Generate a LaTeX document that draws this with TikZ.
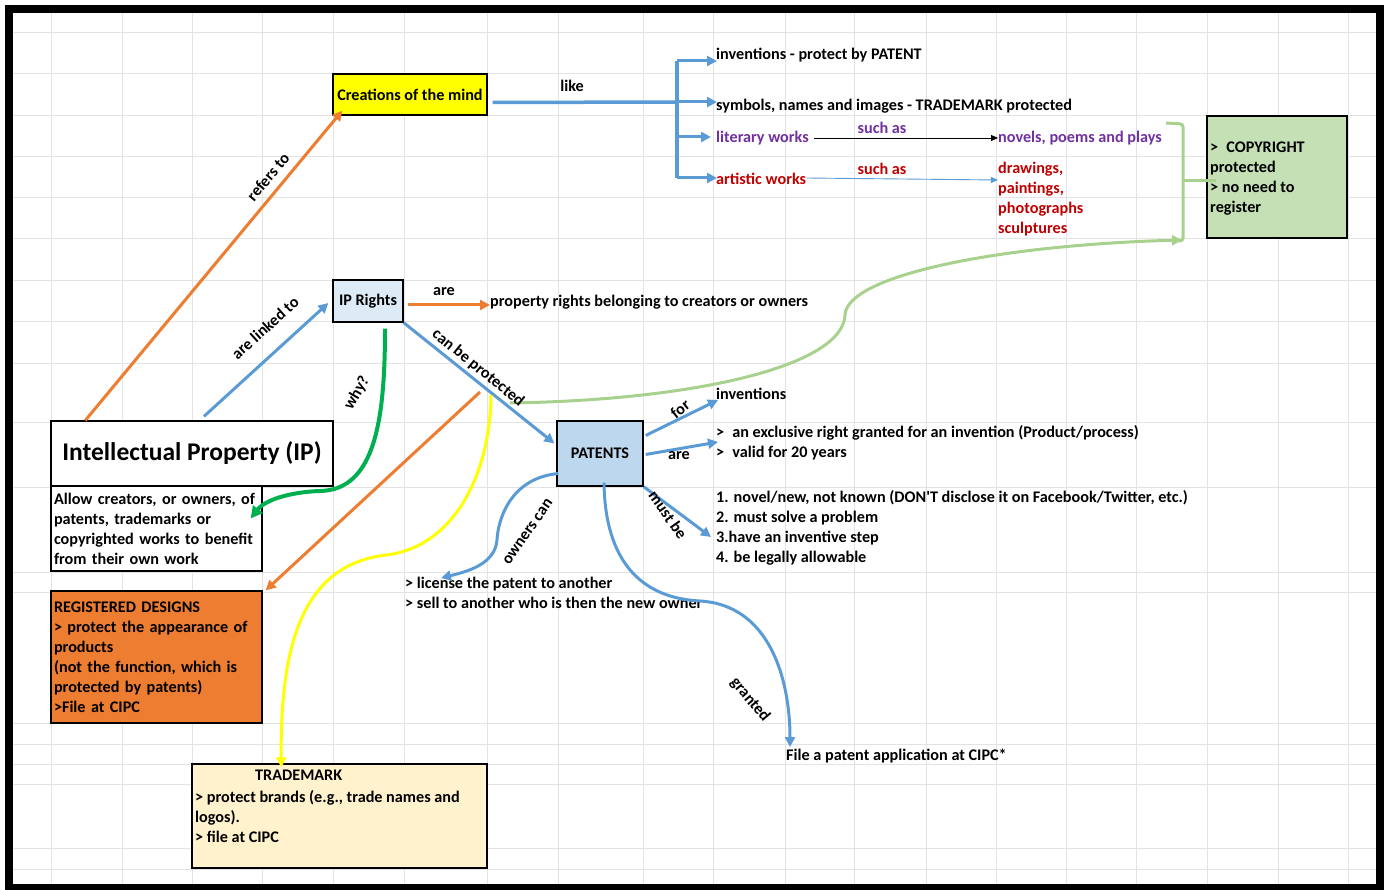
\documentclass[tikz,border=0pt]{standalone}
\usepackage{fontspec}
\setmainfont{Carlito}
\usetikzlibrary{arrows.meta,calc}
\definecolor{cblue}{HTML}{5B9BD5}
\definecolor{corange}{HTML}{ED7D31}
\definecolor{cgreen}{HTML}{00B050}
\definecolor{lgreen}{HTML}{A9D18E}
\definecolor{cyellow}{HTML}{FFFF00}
\definecolor{cpurple}{HTML}{7030A0}
\definecolor{cred}{HTML}{C00000}
\definecolor{fillipr}{HTML}{DDEBF7}
\definecolor{fillpat}{HTML}{BDD7EE}
\definecolor{fillcopy}{HTML}{C5E0B4}
\definecolor{filltm}{HTML}{FFF2CC}
\definecolor{gridc}{HTML}{E3E3E3}
\begin{document}
\begin{tikzpicture}[x=1pt,y=-1pt,
  every node/.style={font=\bfseries\fontsize{16.2}{20}\selectfont, inner sep=0pt},
  box/.style={draw=black, line width=1.3pt, inner sep=3pt},
  conn/.style={line width=3pt, -{Triangle[length=10pt,width=10pt]}},
  thinconn/.style={line width=0.9pt, -{Triangle[length=7pt,width=6pt]}},
  gridline/.style={draw=gridc, line width=1pt}]
\useasboundingbox (0,0) rectangle (1386,890);
% grid
\foreach \x in {51,122,192,262,333,404,487,558,643,713,785,854,926,996,1066,1136,1207,1278,1348}
  \draw[gridline] (\x,13) -- (\x,884);
\foreach \y in {33,74,116,157,198,239,281,322,363,422,487,572,592,723,744,764,784,848,869}
  \draw[gridline] (13,\y) -- (1376,\y);
% frame
\draw[line width=8pt] (9,9) rectangle (1380,888);

% boxes
\node[box, fill=cyellow, minimum width=154pt, minimum height=41pt] (cm) at (410,94.5) {Creations of the mind};
\node[box, fill=fillipr, minimum width=70pt, minimum height=42pt] (ipr) at (368,301) {IP Rights};
\node[box, fill=white, minimum width=282pt, minimum height=65pt, font=\bfseries\fontsize{25.5}{30}\selectfont] (ip) at (192,453.5) {Intellectual Property (IP)};
\node[box, fill=white, minimum width=211pt, minimum height=85pt, text width=205pt, align=left] (ipdesc) at (156.5,528.5) {Allow creators, or owners, of\\patents, trademarks or\\copyrighted works to benefit\\from their own work};
\node[box, fill=fillpat, minimum width=86pt, minimum height=65pt] (pat) at (600,453.5) {PATENTS};
\node[box, fill=fillcopy, minimum width=140pt, minimum height=122pt] (copy) at (1277,177) {};
\node[anchor=west, align=left] (copyt) at (1210,179) {>\enspace COPYRIGHT\\protected\\> no need to\\register};
\node[box, fill=corange, minimum width=211pt, minimum height=132pt, text width=205pt, align=left] (rd) at (156.5,657) {REGISTERED DESIGNS\\> protect the appearance of\\products\\(not the function, which is\\protected by patents)\\>File at CIPC};
\node[box, fill=filltm, minimum width=295pt, minimum height=104pt] (tm) at (339.5,816) {};
\node[anchor=north west, align=left] (tmt) at (195,770) {\hspace*{60pt}TRADEMARK\\[2pt]> protect brands (e.g., trade names and\\logos).\\> file at CIPC};

% texts
\node[anchor=west] (t1) at (716,55) {inventions - protect by PATENT};
\node[anchor=west] (t2) at (716,106) {symbols, names and images - TRADEMARK protected};
\node[anchor=west, text=cpurple] (lit) at (716,138) {literary works};
\node[anchor=west, text=cred] (art) at (716,179) {artistic works};
\node[text=cpurple] (sa1) at (882,128) {such as};
\node[text=cred] (sa2) at (882,169) {such as};
\node[anchor=west, text=cpurple] (nov) at (998,138) {novels, poems and plays};
\node[anchor=west, align=left, text=cred] (drw) at (998,199) {drawings,\\paintings,\\photographs\\sculptures};
\node[anchor=west] (prop) at (490,302) {property rights belonging to creators or owners};
\node[anchor=west] (inv) at (716,394) {inventions};
\node[anchor=west, align=left] (excl) at (716,443) {>\enspace an exclusive right granted for an invention (Product/process)\\>\enspace valid for 20 years};
\node[anchor=west, align=left] (req) at (716,528) {1. novel/new, not known (DON\textquotesingle T disclose it on Facebook/Twitter, etc.)\\2. must solve a problem\\3.have an inventive step\\4. be legally allowable};
\node[anchor=west, align=left] (lic) at (405,593) {> license the patent to another\\> sell to another who is then the new owner};
\node[anchor=west] (file) at (786,756) {File a patent application at CIPC*};

% coordinates
\coordinate (brtop) at (677,61);
\coordinate (brmid) at (677,102);
\coordinate (brlit) at (677,137);
\coordinate (brart) at (677,178);
\coordinate (oStart) at (480,392);
\coordinate (yStart) at (491,395);
\coordinate (gStart) at (510,403);
\coordinate (brbot) at (1182,240);

% blue bracket
\draw[cblue, line width=3.5pt] ($(cm.east)+(5,8)$) -- (brmid);
\draw[cblue, line width=3.5pt] (brtop) -- (brart);
\draw[cblue, conn] (brtop) -- ($(t1.west)+(1,6)$);
\draw[cblue, conn] (brmid) -- ($(t2.west)+(1,-4)$);
\draw[cblue, conn] (brlit) -- ($(lit.west)+(-5,-1)$);
\draw[cblue, conn] (brart) -- ($(art.west)+(1,-1)$);
\draw[black, thinconn] ($(lit.east)+(5,0)$) -- ($(nov.west)+(0,0)$);
\draw[cblue, thinconn] ($(art.east)+(0,-1)$) -- ($(drw.west)+(0,-19)$);

% main connectors
\draw[corange, conn] ($(ip.north west)+(35,0)$) -- ($(cm.south west)+(10,-5)$);
\draw[cblue, conn] ($(ip.north)+(12,-4)$) -- ($(ipr.west)+(-4,2)$);
\draw[corange, conn] ($(ipr.east)+(4,4)$) -- ($(prop.west)+(0,3)$);
\draw[cgreen, line width=4pt, -{Triangle[length=12pt,width=12pt]}] ($(ipr.south)+(17,6)$) .. controls (385,420) and (375,490) .. (320,491) .. controls (290,492) and (265,500) .. ($(ipdesc.east)+(-12,-10)$);
\draw[cblue, conn] (ipr.south east) -- ($(pat.north west)+(-2,23)$);
\draw[corange, conn] (oStart) -- ($(rd.north east)+(3,0)$);
\draw[cyellow, conn] (yStart) .. controls (490,480) and (450,548) .. (386,555) .. controls (300,565) and (280,650) .. ($(tm.north west)+(90,4)$);
\draw[lgreen, conn] (gStart) .. controls (700,400) and (843,365) .. (845,315) .. controls (847,275) and (1000,245) .. (brbot);
\draw[lgreen, line width=3pt, rounded corners=3pt] (1166,123) -- (1183,124) -- (1183,241) -- (1178,241);
\draw[lgreen, line width=3pt] (1183,181) -- (1216,181);

% patents connectors
\draw[cblue, conn] ($(pat.east)+(2,-18)$) -- ($(inv.west)+(2,6)$);
\draw[cblue, conn] ($(pat.east)+(2,1)$) -- ($(excl.west)+(2,-1)$);
\draw[cblue, conn] (pat.south east) -- ($(req.west)+(-5,9)$);
\draw[cblue, conn] ($(pat.west)+(2,20)$) .. controls (510,478) and (498,520) .. (497,540) .. controls (495,565) and (465,572) .. ($(lic.north west)+(36,1)$);
\draw[cblue, conn] ($(pat.south)+(4,-4)$) .. controls (605,560) and (640,598) .. (700,601) .. controls (770,605) and (790,680) .. ($(file.west)+(4,-9)$);

% labels
\node (like) at (572,86) {like};
\node (are1) at (444,292) {are};
\node[rotate=50] (refl) at (268,177) {refers to};
\node[rotate=42] (linkl) at (265,328) {are linked to};
\node[rotate=60] (whyl) at (357,393) {why?};
\node[rotate=-39] (cbpl) at (478,368) {can be protected};
\node[rotate=38] (forl) at (680,409) {for};
\node (are2) at (679,456) {are};
\node[rotate=-55] (mbl) at (668,515) {must be};
\node[rotate=55] (ocl) at (528,532) {owners can};
\node[rotate=-50] (grl) at (750,700) {granted};
\end{tikzpicture}
\end{document}
